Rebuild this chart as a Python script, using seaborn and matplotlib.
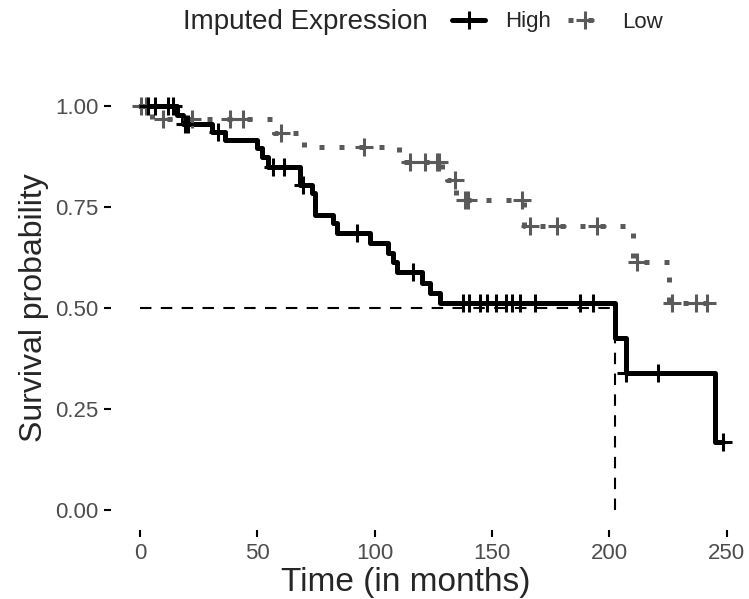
import matplotlib
matplotlib.use('Agg')
import matplotlib.pyplot as plt
from matplotlib.lines import Line2D
import numpy as np
import pandas as pd
import seaborn as sns

# Kaplan-Meier step curves (time in months, survival)
high_time = [0, 15.6, 18.5, 30.5, 36.2, 49.8, 52, 54.5, 68.2, 73.1, 74.6, 82.4, 84.1,
             98, 105.8, 107.8, 109.4, 120, 123.6, 127.8, 202.4, 207.1, 245, 248.5]
high_surv = [1.0, 0.978, 0.955, 0.935, 0.916, 0.895, 0.873, 0.85, 0.804, 0.784, 0.73, 0.71, 0.685,
             0.66, 0.635, 0.613, 0.59, 0.561, 0.536, 0.512, 0.425, 0.34, 0.169, 0.169]
high_censor = [3.4, 6.4, 11.9, 14.1, 19, 20.4, 33.3, 56.6, 61.3, 69.6, 92.6, 116.5,
               137.5, 140, 145, 148, 151.5, 156, 158.5, 162, 168.5, 187.5, 193,
               207.1, 220.6, 248.5]

low_time = [0, 5, 57, 70, 110.5, 128.5, 131, 134.6, 163.5, 210, 225.4, 241.5]
low_surv = [1.0, 0.968, 0.933, 0.898, 0.862, 0.843, 0.817, 0.767, 0.703, 0.615, 0.512, 0.512]
low_censor = [0.5, 2.5, 9.6, 22.3, 38.5, 44, 60, 95.4, 115, 121.4, 126.4, 127.4, 134.2,
              138.5, 139.8, 162.7, 166.2, 177.5, 194.7, 211.6, 226.6, 236.8, 241.5]

groups = ['High', 'Low']
colors = {'High': '#000000', 'Low': '#5a5a5a'}


def step_value(times, surv, t):
    # survival at time t for a right-continuous step function
    i = np.searchsorted(times, t, side='right') - 1
    return surv[i]


curves = pd.concat([
    pd.DataFrame({'time': high_time, 'surv': high_surv, 'group': 'High'}),
    pd.DataFrame({'time': low_time, 'surv': low_surv, 'group': 'Low'}),
], ignore_index=True)

censors = pd.concat([
    pd.DataFrame({'time': high_censor,
                  'surv': [step_value(high_time, high_surv, t) for t in high_censor],
                  'group': 'High'}),
    pd.DataFrame({'time': low_censor,
                  'surv': [step_value(low_time, low_surv, t) for t in low_censor],
                  'group': 'Low'}),
], ignore_index=True)

# median survival of the High group (first time survival drops to 0.5 or below)
median_high = next(t for t, s in zip(high_time, high_surv) if s <= 0.5)

sns.set_style('white')
plt.rcParams['font.family'] = ['Liberation Sans', 'DejaVu Sans']

fig = plt.figure(figsize=(7.49, 5.99), dpi=100)
ax = fig.add_axes([0.1478, 0.1149, 0.8475, 0.7419])

# median line
ax.plot([0, median_high], [0.5, 0.5], color='black', linewidth=1.5, dashes=(5.5, 4.5))
ax.plot([median_high, median_high], [0, 0.5], color='black', linewidth=1.5, dashes=(5.5, 4.5))

sns.lineplot(data=curves, x='time', y='surv', hue='group', style='group',
             palette=colors, dashes={'High': '', 'Low': (1, 3)},
             drawstyle='steps-post', linewidth=3.6, estimator=None, sort=False,
             legend=False, ax=ax)

for g in ['Low', 'High']:
    sub = censors[censors['group'] == g]
    sns.scatterplot(x=sub['time'], y=sub['surv'], color=colors[g], marker='+',
                    s=170, linewidth=2.2, legend=False, ax=ax, zorder=3)

ax.set_xlim(-12.5, 258)
ax.set_ylim(-0.05, 1.05)
ax.set_xticks([0, 50, 100, 150, 200, 250])
ax.set_yticks([0, 0.25, 0.5, 0.75, 1.0])
ax.set_yticklabels(['0.00', '0.25', '0.50', '0.75', '1.00'])
for sp in ax.spines.values():
    sp.set_visible(False)
ax.tick_params(axis='both', length=5, width=1.5, color='black',
               labelcolor='#4d4d4d', labelsize=16, pad=4, bottom=True, left=True)
ax.set_xlabel('')
ax.set_ylabel('Survival probability', fontsize=23, labelpad=4)

# x title sits a little left of the panel centre in the reference
fig.text(406 / 749, 1 - 582 / 599, 'Time (in months)', fontsize=24,
         ha='center', va='center')

# legend on top
fig.text(183 / 749, 1 - 22 / 599, 'Imputed Expression', fontsize=20,
         ha='left', va='center')
handles = [
    Line2D([], [], color=colors['High'], linewidth=3.6, marker='+',
           markersize=13, markeredgewidth=2.2),
    Line2D([], [], color=colors['Low'], linewidth=3.6, dashes=(1, 3), marker='+',
           markersize=13, markeredgewidth=2.2),
]
fig.legend(handles, groups, loc='center left', bbox_to_anchor=(452 / 749, 1 - 22 / 599),
           ncol=2, frameon=False, fontsize=16, handlelength=1.5, handletextpad=0.9,
           columnspacing=0.77, borderpad=0, borderaxespad=0)

fig.savefig('out.png', dpi=100)
